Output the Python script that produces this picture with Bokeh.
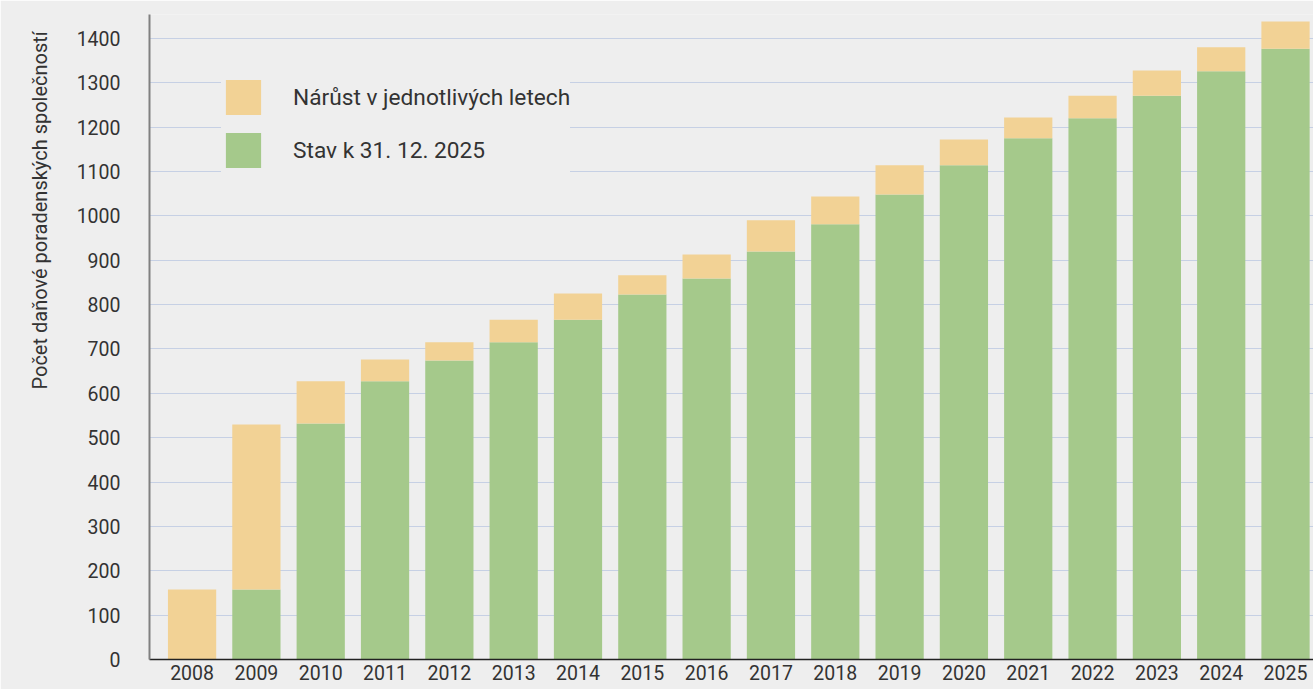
from bokeh.plotting import figure
from bokeh.models import Range1d, FixedTicker, Legend, LegendItem, Title, ColumnDataSource
from bokeh.embed import file_html
from bokeh.resources import INLINE

years = [2008, 2009, 2010, 2011, 2012, 2013, 2014, 2015, 2016, 2017,
         2018, 2019, 2020, 2021, 2022, 2023, 2024, 2025]
year_labels = [str(y) for y in years]
stav = [0, 158, 532, 627, 674, 715, 766, 823, 859, 920,
        981, 1048, 1114, 1175, 1220, 1271, 1326, 1377]
narust = [158, 372, 95, 49, 41, 51, 59, 43, 54, 70,
          63, 66, 58, 47, 51, 57, 54, 61]
y_ticks = [0, 100, 200, 300, 400, 500, 600, 700, 800, 900, 1000, 1100, 1200, 1300, 1400]
series_names = ["Stav k 31. 12. 2025", "Nárůst v jednotlivých letech"]
y_title = "Počet daňové poradenských společností"

GREEN = "#a5c98b"
ORANGE = "#f2d295"
BG = "#eeeeee"
FONT = "Roboto"

src = ColumnDataSource(dict(year=years, stav=stav, narust=narust))

p = figure(width=1313, height=689, output_backend="svg", toolbar_location=None,
           x_range=Range1d(2007.338, 2025.435), y_range=Range1d(0, 1454),
           min_border_left=149, min_border_right=0, min_border_top=14, min_border_bottom=30)
p.background_fill_color = BG
p.border_fill_color = BG
p.outline_line_color = None

rs = p.vbar_stack(["stav", "narust"], x="year", width=0.75, source=src,
                  color=[GREEN, ORANGE], line_color=None)

# axes
p.xaxis.ticker = FixedTicker(ticks=years)
p.xaxis.major_label_overrides = {y: l for y, l in zip(years, year_labels)}
p.xaxis.major_tick_out = 0
p.xaxis.major_tick_in = 0
p.xaxis.minor_tick_out = 0
p.xaxis.minor_tick_in = 0
p.xaxis.axis_line_color = "#222222"
p.xaxis.axis_line_width = 1.5
p.xaxis.major_label_standoff = 5
p.xaxis.major_label_text_font = FONT
p.xaxis.major_label_text_font_size = "19.5px"
p.xaxis.major_label_text_color = "#333333"

p.yaxis.ticker = FixedTicker(ticks=y_ticks)
p.yaxis.major_tick_out = 0
p.yaxis.major_tick_in = 0
p.yaxis.minor_tick_out = 0
p.yaxis.minor_tick_in = 0
p.yaxis.axis_line_color = "#808080"
p.yaxis.axis_line_width = 2
p.yaxis.major_label_standoff = 29
p.yaxis.major_label_text_font = FONT
p.yaxis.major_label_text_font_size = "19.5px"
p.yaxis.major_label_text_color = "#333333"

p.xgrid.grid_line_color = None
p.ygrid.grid_line_color = "#c6d0e4"
p.ygrid.grid_line_width = 1

# y axis title, shifted upward like the reference
p.add_layout(Title(text=y_title, align="left", offset=270, standoff=44,
                   text_font=FONT, text_font_size="20px", text_font_style="normal",
                   text_color="#333333"), "left")

legend = Legend(items=[LegendItem(label=series_names[1], renderers=[rs[1]]),
                       LegendItem(label=series_names[0], renderers=[rs[0]])],
                location=(72, 487), orientation="vertical",
                glyph_width=44, glyph_height=44, label_standoff=28, spacing=9,
                padding=36, margin=0,
                background_fill_color=BG, background_fill_alpha=1.0,
                border_line_color=None,
                label_text_font=FONT, label_text_font_size="22.7px", label_text_color="#333333")
p.add_layout(legend, "center")

open("out.html", "w").write(file_html(p, INLINE))
